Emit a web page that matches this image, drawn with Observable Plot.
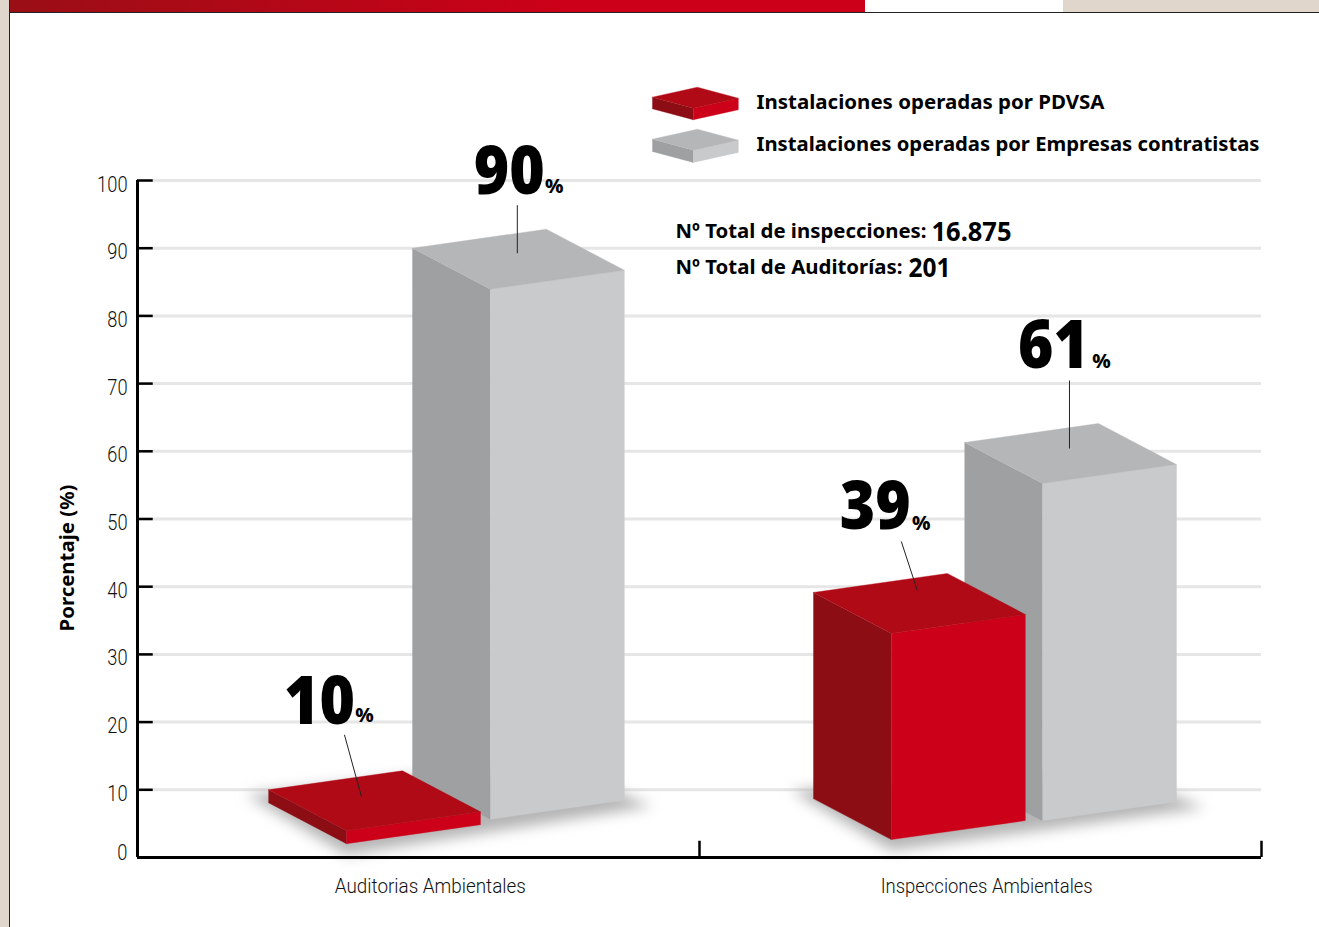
<!DOCTYPE html>
<html>
<head>
<meta charset="utf-8">
<script src="https://cdn.jsdelivr.net/npm/d3@7"></script>
<script src="https://cdn.jsdelivr.net/npm/@observablehq/plot@0.6"></script>
<style>
html,body{margin:0;padding:0;background:#fff;width:1319px;height:927px;overflow:hidden}
#band-red{position:absolute;left:10px;top:0;width:855px;height:12px;background:linear-gradient(90deg,#9a0e15,#cc0018 65%)}
#band-beige{position:absolute;left:1063px;top:0;width:256px;height:12px;background:#e0d6cc}
#rule-top{position:absolute;left:9px;top:11.5px;width:1310px;height:1px;background:#222}
#stripe{position:absolute;left:0;top:0;width:9px;height:927px;background:#e0d6cc;border-right:1px solid #222}
#chart{position:absolute;left:0;top:0}
svg{display:block}
</style>
</head>
<body>
<div id="band-red"></div><div id="band-beige"></div><div id="rule-top"></div><div id="stripe"></div>
<div id="chart"></div>
<script>
const categories = ["Auditorias Ambientales", "Inspecciones Ambientales"];
const seriesNames = ["Instalaciones operadas por PDVSA", "Instalaciones operadas por Empresas contratistas"];
const pdvsa = [10, 39];
const contratistas = [90, 61];
const pdvsaFloor = [8.1, 8.7];
const contratistasFloor = [11.7, 11.5];
const yTicks = [10, 20, 30, 40, 50, 60, 70, 80, 90, 100];
const statLabels = ["Nº Total de inspecciones:", "Nº Total de Auditorías:"];
const statValues = ["16.875", "201"];

const ux = 1 / 562, uy = 1 / 6.77;           // one screen pixel in scale units
const red = {left: "#8c0d13", top: "#b00a16", front: "#cc0018"};
const gray = {left: "#9fa0a2", top: "#b5b6b8", front: "#c9cacc"};
const slot = {pdvsa: [0.233, 1.2025], contratistas: [0.489, 1.4715]};

// Cuboid in scale space: (x, v) is the back-left upper corner.
function cuboid(id, x, v, floor, pal, k = {bx: 134, by: 19, rx: 212, ry: -22, fx: 78, fy: -41}) {
  const P = (px, py, base) => ({x: x + px * ux, v: base + py * uy});
  const face = (name, pts) => pts.map((p) => ({...p, z: id + name, c: pal[name]}));
  return [
    ...face("left", [P(0, 0, v), P(k.fx, k.fy, v), P(k.fx, k.fy, floor), P(0, 0, floor)]),
    ...face("front", [P(k.fx, k.fy, v), P(k.rx, k.ry, v), P(k.rx, k.ry, floor), P(k.fx, k.fy, floor)]),
    ...face("top", [P(0, 0, v), P(k.bx, k.by, v), P(k.rx, k.ry, v), P(k.fx, k.fy, v)])
  ];
}

const bars = [
  ...cuboid("c0", slot.contratistas[0], contratistas[0], contratistasFloor[0], gray),
  ...cuboid("c1", slot.contratistas[1], contratistas[1] + 0.3, contratistasFloor[1], gray),
  ...cuboid("p0", slot.pdvsa[0], pdvsa[0], pdvsaFloor[0], red),
  ...cuboid("p1", slot.pdvsa[1], pdvsa[1] + 0.15, pdvsaFloor[1], red)
];

// Soft floor shadows, derived from each group's floor corners
const shadows = [0, 1].flatMap((i) => {
  const xp = slot.pdvsa[i], xc = slot.contratistas[i], fp = pdvsaFloor[i], fc = contratistasFloor[i];
  return [
    {x: xp - 22 * ux, v: fp + 8 * uy},
    {x: xp + 78 * ux, v: fp - 52 * uy},
    {x: xc + 240 * ux, v: fc - 28 * uy},
    {x: xc + 190 * ux, v: fc - 8 * uy},
    {x: xc + 60 * ux, v: fc + 8 * uy}
  ].map((p) => ({...p, z: "s" + i}));
});

// Legend swatches
const swK = {bx: 45, by: 10, rx: 86, ry: -1, fx: 41, fy: -11};
const swatches = [
  ...cuboid("ls0", 0.916, 112.3, 110.6, red, swK),
  ...cuboid("ls1", 0.916, 106.1, 104.3, gray, swK)
];

// Value labels with their leader lines (offsets in screen px from the bar's corner)
const labels = [
  {value: pdvsa[0], x: slot.pdvsa[0], ox: 51, oy: 88, px: 96, py: 74, l: [76, 55, 93, -7]},
  {value: contratistas[0], x: slot.contratistas[0], ox: 97, oy: 76, px: 142, py: 62, l: [105, 43, 105, -5]},
  {value: pdvsa[1], x: slot.pdvsa[1], ox: 62, oy: 86, px: 108, py: 70, l: [88, 52, 104, 3]},
  {value: contratistas[1], x: slot.contratistas[1], ox: 89, oy: 98, px: 137, py: 83, l: [105, 64, 105, -4]}
];

const tx = (d, a) => d.x + a * ux;
const plot = Plot.plot({
  width: 1319, height: 927,
  marginLeft: 137, marginRight: 58, marginTop: 180, marginBottom: 70,
  x: {domain: [0, 2], axis: null},
  y: {domain: [0, 100], axis: null},
  color: {type: "identity"},
  style: {background: "transparent", fontFamily: "'Noto Sans', sans-serif", color: "#000"},
  marks: [
    Plot.ruleY(yTicks, {stroke: "#e6e6e6", strokeWidth: 3}),
    Plot.line(shadows, {x: "x", y: "v", z: "z", fill: "#b4b4b4", stroke: "none", imageFilter: "blur(7px)"}),
    Plot.line(bars, {x: "x", y: "v", z: "z", fill: "c", stroke: "c", strokeWidth: 0.4}),
    Plot.line(swatches, {x: "x", y: "v", z: "z", fill: "c", stroke: "c", strokeWidth: 0.4}),
    Plot.ruleY(yTicks, {x1: 0, x2: 0.028, stroke: "#000", strokeWidth: 2.5}),
    Plot.ruleX([0], {y1: 0, y2: 100, stroke: "#000", strokeWidth: 3}),
    Plot.ruleY([0], {stroke: "#000", strokeWidth: 3}),
    Plot.ruleX([1, 2], {y1: 0, y2: 2.4, stroke: "#000", strokeWidth: 2.5}),
    Plot.axisY({ticks: yTicks, tickSize: 0, tickPadding: 10, label: null, fontSize: 22, dy: 4, fontWeight: 300, fontFamily: "Roboto", fill: "#111"}),
    Plot.axisY({ticks: [0], tickSize: 0, tickPadding: 10, label: null, fontSize: 22, dy: -5, fontWeight: 300, fontFamily: "Roboto", fill: "#111"}),
    Plot.axisX({ticks: [0.521, 1.511], tickFormat: (d) => categories[Math.floor(d)], tickSize: 0, tickPadding: 10, label: null, fontSize: 21, fontWeight: 300, fontFamily: "Roboto", fill: "#111", lineAnchor: "top", dy: 11}),
    Plot.text(["Porcentaje (%)"], {frameAnchor: "top-left", dx: -78, dy: 451, rotate: -90, fontSize: 20, fontWeight: 700, fill: "#000"}),
    Plot.link(labels, {x1: (d) => tx(d, d.l[0]), y1: (d) => d.value + d.l[1] * uy, x2: (d) => tx(d, d.l[2]), y2: (d) => d.value + d.l[3] * uy, stroke: "#222", strokeWidth: 1}),
    Plot.text(labels, {x: (d) => tx(d, d.ox), y: (d) => d.value + d.oy * uy, text: (d) => String(d.value), fontSize: 68, fontWeight: 900, fill: "#000"}),
    Plot.text(labels, {x: (d) => tx(d, d.px), y: (d) => d.value + d.py * uy, text: () => "%", fontSize: 20, fontWeight: 800, fill: "#000"}),
    Plot.text([seriesNames[0]], {frameAnchor: "top-left", textAnchor: "start", dx: 619, dy: -86, fontSize: 20, fontWeight: 700}),
    Plot.text([seriesNames[1]], {frameAnchor: "top-left", textAnchor: "start", dx: 619, dy: -44, fontSize: 20, fontWeight: 700}),
    Plot.text([statLabels[0]], {frameAnchor: "top-left", textAnchor: "start", dx: 538, dy: 43, fontSize: 20, fontWeight: 700}),
    Plot.text([statLabels[1]], {frameAnchor: "top-left", textAnchor: "start", dx: 538, dy: 79, fontSize: 20, fontWeight: 700}),
    Plot.text([statValues[0]], {frameAnchor: "top-left", textAnchor: "start", dx: 794, dy: 41, fontSize: 27, fontWeight: 700}),
    Plot.text([statValues[1]], {frameAnchor: "top-left", textAnchor: "start", dx: 771, dy: 77, fontSize: 27, fontWeight: 700})
  ]
});
document.getElementById("chart").append(plot);

// Horizontally fit text to the narrow typeface of the reference
function squeeze(t, w) {
  t.setAttribute("textLength", w);
  t.setAttribute("lengthAdjust", "spacingAndGlyphs");
}
const widths = new Map([
  [seriesNames[0], 348], [seriesNames[1], 503],
  [statLabels[0], 251], [statLabels[1], 227],
  [statValues[0], 80], [statValues[1], 42],
  ["Porcentaje (%)", 147],
  ["10", 71], ["90", 71], ["39", 71], ["61", 71]
]);
plot.querySelectorAll('g[aria-label="text"] text').forEach((t) => {
  if (widths.has(t.textContent)) squeeze(t, widths.get(t.textContent));
});
plot.querySelectorAll('g[aria-label="y-axis tick label"] text').forEach((t) => squeeze(t, t.getComputedTextLength() * 0.83));
const xw = [191, 212];
plot.querySelectorAll('g[aria-label="x-axis tick label"] text').forEach((t, i) => squeeze(t, xw[i]));
</script>
</body>
</html>
